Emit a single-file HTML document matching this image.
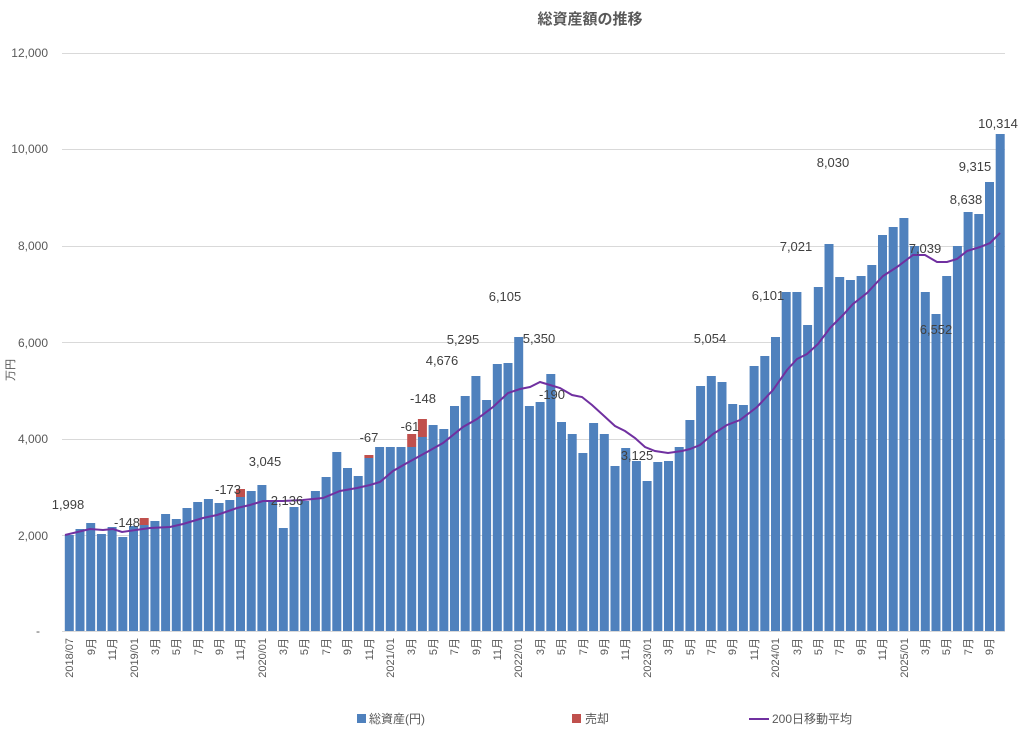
<!DOCTYPE html>
<html><head><meta charset="utf-8"><style>
html,body{margin:0;padding:0;background:#fff;}
svg{display:block;font-family:"Liberation Sans","Noto Sans CJK JP",sans-serif;}
</style></head><body>
<svg id="c" width="1024" height="735" viewBox="0 0 1024 735">
<text x="590" y="24" text-anchor="middle" font-size="15" font-weight="bold" fill="#595959">総資産額の推移</text>
<g stroke="#d9d9d9" stroke-width="1">
<line x1="62" x2="1005" y1="53.5" y2="53.5"/><line x1="62" x2="1005" y1="149.5" y2="149.5"/>
<line x1="62" x2="1005" y1="246.5" y2="246.5"/><line x1="62" x2="1005" y1="342.5" y2="342.5"/>
<line x1="62" x2="1005" y1="439.5" y2="439.5"/><line x1="62" x2="1005" y1="535.5" y2="535.5"/>
<line x1="62" x2="1005" y1="631.5" y2="631.5"/>
</g>
<g font-size="12" fill="#595959" text-anchor="end">
<text x="48" y="57">12,000</text><text x="48" y="153">10,000</text><text x="48" y="250">8,000</text>
<text x="48" y="347">6,000</text><text x="48" y="443">4,000</text><text x="48" y="540">2,000</text><text x="40" y="635">-</text>
</g>
<text transform="translate(14,370) rotate(-90)" font-size="11" fill="#595959" text-anchor="middle">万円</text>
<g id="bars"></g>
<polyline fill="none" stroke="#7030a0" stroke-width="2" points="65,535 90,529 103,530 113,529 122,532 150,528 170,527 183,524 203,518 217,515 237,508 250,505 263,501 283,501 303,500 323,498 340,491 357,488 370,485 380,482 393,471 407,463 427,452 443,443 463,427 477,419 493,407 508,393 520,389 530,387 540,382 550,385 560,388 572,395 582,397 592,405 603,415 615,426 625,431 635,438 645,447 655,451 668,453 682,451 690,449 700,445 713,434 727,425 740,420 757,407 773,390 787,370 797,359 807,354 818,344 830,328 843,315 853,304 867,293 883,276 897,267 913,255 925,255 937,262 947,262 957,259 967,251 980,247 990,243 1000,233"/>
<g font-size="13" fill="#404040" text-anchor="middle">
<text x="68" y="509">1,998</text><text x="127" y="527">-148</text><text x="228" y="494">-173</text>
<text x="265" y="466">3,045</text><text x="287" y="505">2,136</text><text x="369" y="442">-67</text>
<text x="410" y="431">-61</text><text x="423" y="403">-148</text><text x="442" y="365">4,676</text>
<text x="463" y="344">5,295</text><text x="505" y="301">6,105</text><text x="539" y="343">5,350</text>
<text x="552" y="399">-190</text><text x="637" y="460">3,125</text><text x="710" y="343">5,054</text>
<text x="768" y="300">6,101</text><text x="796" y="251">7,021</text><text x="833" y="167">8,030</text>
<text x="925" y="253">7,039</text><text x="936" y="334">6,552</text><text x="966" y="204">8,638</text>
<text x="975" y="171">9,315</text><text x="998" y="128">10,314</text>
</g>
<g font-size="11" fill="#595959" text-anchor="end">
<text transform="translate(73,638) rotate(-90)">2018/07</text>
<text transform="translate(95,638) rotate(-90)">9月</text>
<text transform="translate(116,638) rotate(-90)">11月</text>
<text transform="translate(138,638) rotate(-90)">2019/01</text>
<text transform="translate(159,638) rotate(-90)">3月</text>
<text transform="translate(180,638) rotate(-90)">5月</text>
<text transform="translate(202,638) rotate(-90)">7月</text>
<text transform="translate(223,638) rotate(-90)">9月</text>
<text transform="translate(244,638) rotate(-90)">11月</text>
<text transform="translate(266,638) rotate(-90)">2020/01</text>
<text transform="translate(287,638) rotate(-90)">3月</text>
<text transform="translate(308,638) rotate(-90)">5月</text>
<text transform="translate(330,638) rotate(-90)">7月</text>
<text transform="translate(351,638) rotate(-90)">9月</text>
<text transform="translate(373,638) rotate(-90)">11月</text>
<text transform="translate(394,638) rotate(-90)">2021/01</text>
<text transform="translate(415,638) rotate(-90)">3月</text>
<text transform="translate(437,638) rotate(-90)">5月</text>
<text transform="translate(458,638) rotate(-90)">7月</text>
<text transform="translate(480,638) rotate(-90)">9月</text>
<text transform="translate(501,638) rotate(-90)">11月</text>
<text transform="translate(522,638) rotate(-90)">2022/01</text>
<text transform="translate(544,638) rotate(-90)">3月</text>
<text transform="translate(565,638) rotate(-90)">5月</text>
<text transform="translate(587,638) rotate(-90)">7月</text>
<text transform="translate(608,638) rotate(-90)">9月</text>
<text transform="translate(629,638) rotate(-90)">11月</text>
<text transform="translate(651,638) rotate(-90)">2023/01</text>
<text transform="translate(672,638) rotate(-90)">3月</text>
<text transform="translate(694,638) rotate(-90)">5月</text>
<text transform="translate(715,638) rotate(-90)">7月</text>
<text transform="translate(736,638) rotate(-90)">9月</text>
<text transform="translate(758,638) rotate(-90)">11月</text>
<text transform="translate(779,638) rotate(-90)">2024/01</text>
<text transform="translate(801,638) rotate(-90)">3月</text>
<text transform="translate(822,638) rotate(-90)">5月</text>
<text transform="translate(843,638) rotate(-90)">7月</text>
<text transform="translate(865,638) rotate(-90)">9月</text>
<text transform="translate(886,638) rotate(-90)">11月</text>
<text transform="translate(908,638) rotate(-90)">2025/01</text>
<text transform="translate(929,638) rotate(-90)">3月</text>
<text transform="translate(950,638) rotate(-90)">5月</text>
<text transform="translate(972,638) rotate(-90)">7月</text>
<text transform="translate(993,638) rotate(-90)">9月</text>
</g>
<rect x="357" y="714" width="9" height="9" fill="#4f81bd"/>
<text x="369" y="723" font-size="12" fill="#595959">総資産(円)</text>
<rect x="572" y="714" width="9" height="9" fill="#c0504d"/>
<text x="585" y="723" font-size="12" fill="#595959">売却</text>
<line x1="749" x2="769" y1="719" y2="719" stroke="#7030a0" stroke-width="2"/>
<text x="772" y="723" font-size="12" fill="#595959">200日移動平均</text>
</svg>
<script>
var tops=[535,529,523,534,527,537,526,525,521,514,519,508,502,499,503,500,497,491,485,500,528,507,501,491,477,452,468,476,458,447,447,447,447,437,425,429,406,396,376,400,364,363,337,406,402,374,422,434,453,423,434,466,448,461,481,462,461,447,420,386,376,382,404,405,366,356,337,292,292,325,287,244,277,280,276,265,235,227,218,246,292,314,276,246,212,214,182,134];
var reds={7:518,16:489,28:455,32:434,33:419,45:413};
var g=document.getElementById('bars'),h='';
for(var i=0;i<tops.length;i++){var x=64.8+10.7*i;
h+='<rect x="'+x.toFixed(1)+'" y="'+tops[i]+'" width="9" height="'+(631-tops[i])+'" fill="#4f81bd"/>';
if(reds[i]!==undefined)h+='<rect x="'+x.toFixed(1)+'" y="'+reds[i]+'" width="9" height="'+(tops[i]-reds[i])+'" fill="#c0504d"/>';}
g.innerHTML=h;
</script>
</body></html>
